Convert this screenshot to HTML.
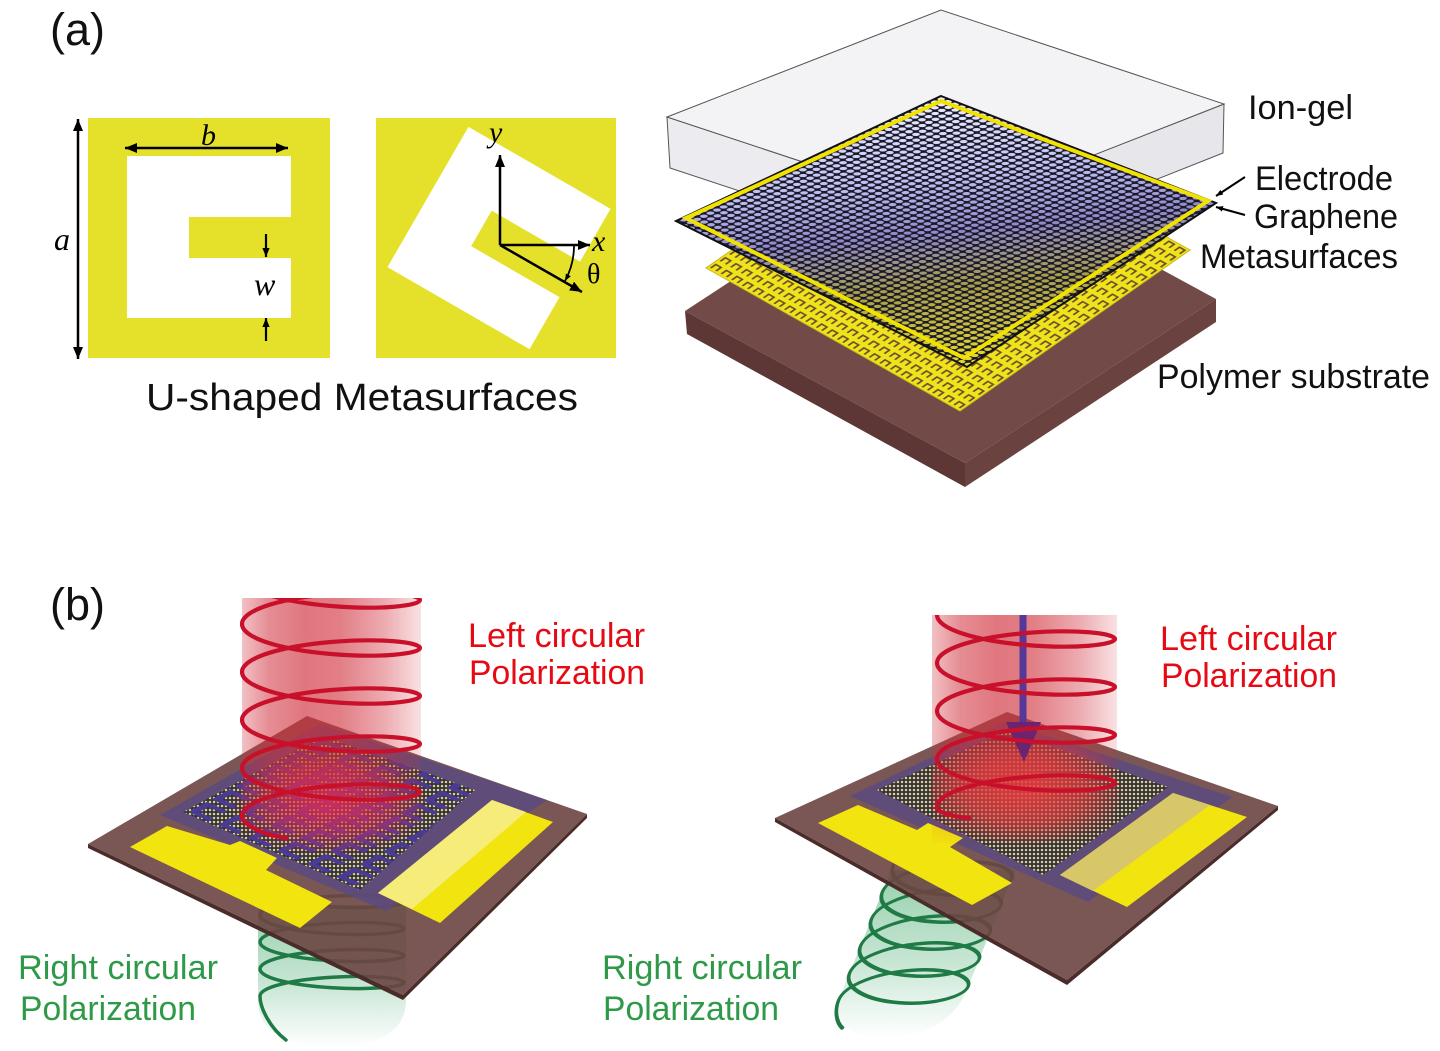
<!DOCTYPE html>
<html><head><meta charset="utf-8">
<style>html,body{margin:0;padding:0;background:#fff;}svg{display:block}</style>
</head>
<body>
<svg width="1440" height="1051" viewBox="0 0 1440 1051" xmlns="http://www.w3.org/2000/svg" font-family="'Liberation Sans','DejaVu Sans',sans-serif">
<defs>
  <marker id="ar" viewBox="0 0 12 10" refX="12" refY="5" markerUnits="userSpaceOnUse" markerWidth="12" markerHeight="10" orient="auto-start-reverse"><path d="M0,0 L12,5 L0,10 Z" fill="#000"/></marker>
  <marker id="ars" viewBox="0 0 10 8" refX="10" refY="4" markerUnits="userSpaceOnUse" markerWidth="9" markerHeight="8" orient="auto-start-reverse"><path d="M0,0 L10,4 L0,8 Z" fill="#000"/></marker>
  <marker id="art" viewBox="0 0 10 8" refX="10" refY="4" markerUnits="userSpaceOnUse" markerWidth="7" markerHeight="6" orient="auto"><path d="M0,0 L10,4 L0,8 Z" fill="#000"/></marker>

  <linearGradient id="gGrad" gradientUnits="userSpaceOnUse" x1="941" y1="96" x2="967" y2="367">
    <stop offset="0" stop-color="#f0f0ff"/>
    <stop offset="0.3" stop-color="#c0c0f0"/>
    <stop offset="0.5" stop-color="#9088c8"/>
    <stop offset="0.7" stop-color="#a89e48"/>
    <stop offset="1" stop-color="#e8dc30"/>
  </linearGradient>
  <pattern id="hex" patternUnits="userSpaceOnUse" width="1" height="1" patternTransform="matrix(6.9,2.68,-6.6,3.1,941,96)">
    <path d="M0,0H1V1H0Z M0.5,0.09 A0.41,0.41 0 1 0 0.5,0.91 A0.41,0.41 0 1 0 0.5,0.09Z" fill="#18182a" fill-rule="evenodd"/>
  </pattern>
  <pattern id="msU" patternUnits="userSpaceOnUse" width="1" height="1" patternTransform="matrix(10.58,5.96,9.58,-6.71,706,268)">
    <rect width="1" height="1" fill="#efe31c"/>
    <path d="M0.25,0.22 V0.75 H0.75 V0.22" fill="none" stroke="#6a4a2c" stroke-width="0.15"/>
  </pattern>
  <pattern id="dots" patternUnits="userSpaceOnUse" width="4" height="4">
    <rect width="4" height="4" fill="#2e2c62"/>
    <circle cx="2" cy="2" r="1.25" fill="#e6dc3a"/>
  </pattern>
  <pattern id="bigU" patternUnits="userSpaceOnUse" width="1" height="1" patternTransform="matrix(29.5,13,23.3,-12.7,183,812)">
    <path d="M0.8,0.2 H0.2 V0.8 H0.8" fill="none" stroke="#4a3a92" stroke-width="0.2"/>
  </pattern>

  <linearGradient id="beamH" x1="0" y1="0" x2="1" y2="0">
    <stop offset="0" stop-color="#d0303c" stop-opacity="0.3"/>
    <stop offset="0.15" stop-color="#d0303c" stop-opacity="0.55"/>
    <stop offset="0.35" stop-color="#d0303c" stop-opacity="0.66"/>
    <stop offset="0.55" stop-color="#d0303c" stop-opacity="0.62"/>
    <stop offset="0.8" stop-color="#d0303c" stop-opacity="0.4"/>
    <stop offset="1" stop-color="#d0303c" stop-opacity="0.14"/>
  </linearGradient>
  <linearGradient id="fadeV" x1="0" y1="0" x2="0" y2="1">
    <stop offset="0" stop-color="#fff"/>
    <stop offset="0.72" stop-color="#fff"/>
    <stop offset="1" stop-color="#000"/>
  </linearGradient>
  <mask id="mL" maskUnits="userSpaceOnUse" x="0" y="0" width="1440" height="1051">
    <rect x="242" y="598" width="179" height="240" fill="url(#fadeV)"/>
  </mask>
  <mask id="mR" maskUnits="userSpaceOnUse" x="0" y="0" width="1440" height="1051">
    <rect x="932" y="615" width="185" height="230" fill="url(#fadeV)"/>
  </mask>
  <radialGradient id="spotL" cx="0.5" cy="0.5" r="0.5">
    <stop offset="0" stop-color="#ec2a5a" stop-opacity="0.7"/>
    <stop offset="0.6" stop-color="#e02a5a" stop-opacity="0.45"/>
    <stop offset="1" stop-color="#e02a5a" stop-opacity="0"/>
  </radialGradient>
  <radialGradient id="spotR" cx="0.5" cy="0.5" r="0.5">
    <stop offset="0" stop-color="#f04040" stop-opacity="0.72"/>
    <stop offset="0.6" stop-color="#f04040" stop-opacity="0.48"/>
    <stop offset="1" stop-color="#f04040" stop-opacity="0"/>
  </radialGradient>
  <linearGradient id="greenV" x1="0" y1="0" x2="0" y2="1">
    <stop offset="0" stop-color="#40a868" stop-opacity="0.55"/>
    <stop offset="0.55" stop-color="#50b078" stop-opacity="0.32"/>
    <stop offset="1" stop-color="#60b888" stop-opacity="0"/>
  </linearGradient>
  <clipPath id="cL"><rect x="0" y="598" width="720" height="453"/></clipPath>
  <clipPath id="cR"><rect x="720" y="615" width="720" height="436"/></clipPath>
</defs>

<!-- ================= (a) ================= -->
<text x="50" y="45" font-size="45" fill="#111">(a)</text>

<rect x="88" y="118" width="242" height="240" fill="#e5e12b"/>
<path d="M127,156 H291 V217 H189 V258 H291 V318 H127 Z" fill="#fff"/>
<line x1="125" y1="148" x2="288" y2="148" stroke="#000" stroke-width="2.5" marker-start="url(#ar)" marker-end="url(#ar)"/>
<line x1="78" y1="119" x2="78" y2="359" stroke="#000" stroke-width="2.5" marker-start="url(#ar)" marker-end="url(#ar)"/>
<line x1="266" y1="234" x2="266" y2="257" stroke="#000" stroke-width="2.2" marker-end="url(#ars)"/>
<line x1="266" y1="341" x2="266" y2="318" stroke="#000" stroke-width="2.2" marker-end="url(#ars)"/>
<text x="201" y="145" font-family="'Liberation Serif',serif" font-style="italic" font-size="30">b</text>
<text x="54" y="250" font-family="'Liberation Serif',serif" font-style="italic" font-size="32">a</text>
<text x="254" y="295" font-family="'Liberation Serif',serif" font-style="italic" font-size="32">w</text>

<rect x="376" y="118" width="240" height="240" fill="#e5e12b"/>
<g transform="rotate(30 499 238) translate(290 1)">
  <path d="M127,156 H291 V217 H189 V258 H291 V318 H127 Z" fill="#fff"/>
</g>
<line x1="500" y1="245" x2="500" y2="155" stroke="#000" stroke-width="2.5" marker-end="url(#ar)"/>
<line x1="500" y1="245" x2="590" y2="245" stroke="#000" stroke-width="2.5" marker-end="url(#ar)"/>
<line x1="500" y1="245" x2="582" y2="292" stroke="#000" stroke-width="2.5" marker-end="url(#ar)"/>
<path d="M574,246 A74,74 0 0 1 565,281" fill="none" stroke="#000" stroke-width="1.8" marker-end="url(#art)"/>
<text x="489" y="142" font-family="'Liberation Serif',serif" font-style="italic" font-size="30">y</text>
<text x="592" y="251" font-family="'Liberation Serif',serif" font-style="italic" font-size="30">x</text>
<text x="587" y="283" font-family="'Liberation Serif',serif" font-size="28">θ</text>

<text x="146" y="410" font-size="38" fill="#111" textLength="432" lengthAdjust="spacingAndGlyphs">U-shaped Metasurfaces</text>

<!-- polymer substrate -->
<polygon points="685,311 965,463 965,487 687,334" fill="#5c3735"/>
<polygon points="965,463 1216,299 1216,322 965,487" fill="#6a4341"/>
<polygon points="685,311 936,147 1216,299 965,463" fill="#724a48"/>

<!-- metasurface sheet -->
<polygon points="936,108 1190,250 960,411 706,268" fill="url(#msU)" stroke="#c8b818" stroke-width="1"/>

<!-- ion-gel box -->
<polygon points="667,117 951,211 951,261 670,168" fill="#ececf0" stroke="#555" stroke-width="1"/>
<polygon points="951,211 1224,104 1223,153 951,261" fill="#e6e6eb" stroke="#555" stroke-width="1"/>
<polygon points="667,117 941,10 1224,104 951,211" fill="#f3f3f6" stroke="#555" stroke-width="1"/>

<!-- graphene -->
<polygon points="941,96 1216,203 967,367 676,221" fill="url(#gGrad)"/>
<polygon points="941,96 1216,203 967,367 676,221" fill="url(#hex)" stroke="#111" stroke-width="2"/>
<polygon points="941,101 1208,201 964,358 686,218" fill="none" stroke="#f2e200" stroke-width="4"/>

<text x="1248" y="119" font-size="34" fill="#111" textLength="105" lengthAdjust="spacingAndGlyphs">Ion-gel</text>
<text x="1255" y="190" font-size="34" fill="#111" textLength="138" lengthAdjust="spacingAndGlyphs">Electrode</text>
<text x="1254" y="228" font-size="34" fill="#111" textLength="144" lengthAdjust="spacingAndGlyphs">Graphene</text>
<text x="1200" y="268" font-size="34" fill="#111" textLength="198" lengthAdjust="spacingAndGlyphs">Metasurfaces</text>
<text x="1157" y="388" font-size="34" fill="#111" textLength="273" lengthAdjust="spacingAndGlyphs">Polymer substrate</text>
<line x1="1245" y1="177" x2="1216" y2="196" stroke="#000" stroke-width="2" marker-end="url(#art)"/>
<line x1="1245" y1="215" x2="1216" y2="207" stroke="#000" stroke-width="2" marker-end="url(#art)"/>

<!-- ================= (b) ================= -->
<text x="50" y="620" font-size="45" fill="#111">(b)</text>

<!-- ---- left device ---- -->
<path d="M258,905 H406 V1000 Q406,1045 332,1048 Q258,1045 258,1000 Z" fill="url(#greenV)"/>
<path d="M260,888 c0,9 32.23,16.38 72,18.75 c39.77,2.37 72,-1 72,-5.25 c0,-4.25 -32.23,-7.62 -72,-5.25 c-39.77,2.37 -72,9.75 -72,18.75 c0,9 32.23,16.38 72,18.75 c39.77,2.37 72,-1 72,-5.25 c0,-4.25 -32.23,-7.62 -72,-5.25 c-39.77,2.37 -72,9.75 -72,18.75 c0,9 32.23,16.38 72,18.75 c39.77,2.37 72,-1 72,-5.25 c0,-4.25 -32.23,-7.62 -72,-5.25 c-39.77,2.37 -72,9.75 -72,18.75 c0,9 32.23,16.38 72,18.75 c39.77,2.37 72,-1 72,-5.25 c0,-4.25 -32.23,-7.62 -72,-5.25 c-39.77,2.37 -72,9.75 -72,18.75 c0,12 10,32 26,44" fill="none" stroke="#1f7a45" stroke-width="3.5" stroke-linecap="round"/>

<polygon points="88,844 403,995 587,814 587,818 403,1000 88,848" fill="#4a2c2a"/>
<polygon points="88,844 307,716 587,814 403,995" fill="#6c4543" fill-opacity="0.9"/>
<polygon points="160,815 320,724 547,800 386,911" fill="#5a4a80" fill-opacity="0.85"/>
<polygon points="183,812 323,736 475,790 360,890" fill="url(#dots)"/>
<polygon points="183,812 323,736 475,790 360,890" fill="url(#bigU)"/>
<polygon points="130,847 167,826 230,845 240,841 277,858 266,870 332,902 300,928" fill="#f2e40e"/>
<polygon points="378,893 492,800 553,822 440,923" fill="#f2e40e"/>
<polygon points="378,893 492,800 526,812 412,909" fill="#f6ec7a"/>

<rect x="242" y="598" width="179" height="240" fill="url(#beamH)" mask="url(#mL)"/>
<ellipse cx="330" cy="805" rx="100" ry="52" fill="url(#spotL)"/>
<path clip-path="url(#cL)" d="M242,576 c0,14.16 39.8,25.78 89,30 c49.2,4.22 89,-0.28 89,-6 c0,-5.72 -39.8,-10.22 -89,-6 c-49.2,4.22 -89,15.84 -89,30 c0,14.16 39.8,25.78 89,30 c49.2,4.22 89,-0.28 89,-6 c0,-5.72 -39.8,-10.22 -89,-6 c-49.2,4.22 -89,15.84 -89,30 c0,14.16 39.8,25.78 89,30 c49.2,4.22 89,-0.28 89,-6 c0,-5.72 -39.8,-10.22 -89,-6 c-49.2,4.22 -89,15.84 -89,30 c0,14.16 39.8,25.78 89,30 c49.2,4.22 89,-0.28 89,-6 c0,-5.72 -39.8,-10.22 -89,-6 c-49.2,4.22 -89,15.84 -89,30 c0,14.16 39.8,25.78 89,30 c49.2,4.22 89,-0.28 89,-6 c0,-5.72 -39.8,-10.22 -89,-6 c-49.2,4.22 -89,15.84 -89,30 c0,8 18,18 44,22" fill="none" stroke="#c8102a" stroke-width="4.2" stroke-linecap="round"/>

<text x="468" y="647" font-size="34" fill="#e60a14" textLength="177" lengthAdjust="spacingAndGlyphs">Left circular</text>
<text x="469" y="684" font-size="34" fill="#e60a14" textLength="176" lengthAdjust="spacingAndGlyphs">Polarization</text>
<text x="18" y="979" font-size="34" fill="#2e9a48" textLength="200" lengthAdjust="spacingAndGlyphs">Right circular</text>
<text x="20" y="1020" font-size="34" fill="#2e9a48" textLength="176" lengthAdjust="spacingAndGlyphs">Polarization</text>

<!-- ---- right device ---- -->
<g transform="translate(950 878) skewX(-22) translate(-950 -878)">
  <path d="M888,870 H1012 V990 Q1012,1035 950,1038 Q888,1035 888,990 Z" fill="url(#greenV)"/>
  <path d="M888,865 c0,15.08 27.76,27.38 62,29.75 c34.24,2.37 62,-5.92 62,-16.25 c0,-10.33 -27.76,-18.62 -62,-16.25 c-34.24,2.37 -62,14.67 -62,29.75 c0,15.08 27.76,27.38 62,29.75 c34.24,2.37 62,-5.92 62,-16.25 c0,-10.33 -27.76,-18.62 -62,-16.25 c-34.24,2.37 -62,14.67 -62,29.75 c0,15.08 27.76,27.38 62,29.75 c34.24,2.37 62,-5.92 62,-16.25 c0,-10.33 -27.76,-18.62 -62,-16.25 c-34.24,2.37 -62,14.67 -62,29.75 c0,15.08 27.76,27.38 62,29.75 c34.24,2.37 62,-5.92 62,-16.25 c0,-10.33 -27.76,-18.62 -62,-16.25 c-34.24,2.37 -62,14.67 -62,29.75 c0,15.08 27.76,27.38 62,29.75 c34.24,2.37 62,-5.92 62,-16.25 c0,-10.33 -27.76,-18.62 -62,-16.25 c-34.24,2.37 -62,14.67 -62,29.75 c0,10 6,22 15,28" fill="none" stroke="#1f7a45" stroke-width="3.5" stroke-linecap="round"/>
</g>

<polygon points="775,818 1067,980 1278,806 1278,810 1067,985 775,822" fill="#4a2c2a"/>
<polygon points="775,818 1007,712 1278,806 1067,980" fill="#6c4543" fill-opacity="0.9"/>
<polygon points="850,796 1005,722 1232,797 1088,902" fill="#5a4a80" fill-opacity="0.85"/>
<polygon points="877,790 1006,731 1168,787 1043,875" fill="url(#dots)"/>
<polygon points="818,823 858,805 917,830 928,823 963,838 950,847 1012,883 972,905" fill="#f2e40e"/>
<polygon points="1060,875 1173,793 1247,817 1127,907" fill="#f2e40e"/>
<polygon points="1060,875 1173,793 1210,805 1093,891" fill="#d8c768"/>

<rect x="932" y="615" width="185" height="230" fill="url(#beamH)" mask="url(#mR)"/>
<ellipse cx="1025" cy="792" rx="100" ry="55" fill="url(#spotR)"/>
<line x1="1023" y1="615" x2="1023" y2="726" stroke="#55389a" stroke-width="7"/>
<polygon points="1006,722 1041,722 1024,762" fill="#6b2470"/>
<path clip-path="url(#cR)" d="M937,567 c0,14.16 39.8,25.78 89,30 c49.2,4.22 89,-0.28 89,-6 c0,-5.72 -39.8,-10.22 -89,-6 c-49.2,4.22 -89,15.84 -89,30 c0,14.16 39.8,25.78 89,30 c49.2,4.22 89,-0.28 89,-6 c0,-5.72 -39.8,-10.22 -89,-6 c-49.2,4.22 -89,15.84 -89,30 c0,14.16 39.8,25.78 89,30 c49.2,4.22 89,-0.28 89,-6 c0,-5.72 -39.8,-10.22 -89,-6 c-49.2,4.22 -89,15.84 -89,30 c0,14.16 39.8,25.78 89,30 c49.2,4.22 89,-0.28 89,-6 c0,-5.72 -39.8,-10.22 -89,-6 c-49.2,4.22 -89,15.84 -89,30 c0,14.16 39.8,25.78 89,30 c49.2,4.22 89,-0.28 89,-6 c0,-5.72 -39.8,-10.22 -89,-6 c-49.2,4.22 -89,15.84 -89,30 c0,5 12,9 32,11" fill="none" stroke="#c8102a" stroke-width="4.2" stroke-linecap="round"/>

<text x="1160" y="650" font-size="34" fill="#e60a14" textLength="177" lengthAdjust="spacingAndGlyphs">Left circular</text>
<text x="1161" y="687" font-size="34" fill="#e60a14" textLength="176" lengthAdjust="spacingAndGlyphs">Polarization</text>
<text x="602" y="979" font-size="34" fill="#2e9a48" textLength="200" lengthAdjust="spacingAndGlyphs">Right circular</text>
<text x="603" y="1020" font-size="34" fill="#2e9a48" textLength="176" lengthAdjust="spacingAndGlyphs">Polarization</text>
</svg>
</body></html>
